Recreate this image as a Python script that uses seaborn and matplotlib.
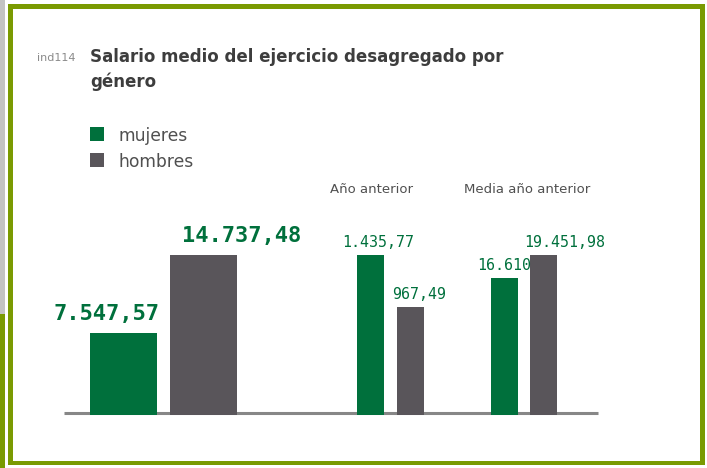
import numpy as np
import pandas as pd
import matplotlib
matplotlib.use("Agg")
import matplotlib.pyplot as plt
import seaborn as sns
from matplotlib.patches import Rectangle
from matplotlib import font_manager as fm

# ---------------- data ----------------
indicator = "ind114"
title_lines = ["Salario medio del ejercicio desagregado por", "género"]
series = ["mujeres", "hombres"]
groups = ["Ejercicio", "Año anterior", "Media año anterior"]
group_headers = ["", "Año anterior", "Media año anterior"]
mujeres = [7547.57, 1435.77, 16610.0]
hombres = [14737.48, 967.49, 19451.98]
labels_mujeres = ["7.547,57", "1.435,77", "16.610"]
labels_hombres = ["14.737,48", "967,49", "19.451,98"]

# ---------------- style ----------------
GREEN = "#00703c"
GREY = "#59555a"
OLIVE = "#7a9a01"
TXT = "#505050"
sns.set_theme(style="white")
plt.rcParams["font.family"] = ["DejaVu Sans"]
MONO = ["DejaVu Sans Mono", "DejaVu Sans"]

# look for a condensed/narrow bold face for the title
title_fp = None
for f in fm.fontManager.ttflist:
    nm = (f.fname + " " + f.name).lower()
    if ("condensed" in nm or "narrow" in nm) and "semi" not in nm and \
            (f.weight in ("bold", 700) or "bold" in nm) and "oblique" not in nm and "italic" not in nm:
        title_fp = fm.FontProperties(fname=f.fname)
        break
if title_fp is not None:
    title_fp.set_size(13.3)
else:
    title_fp = fm.FontProperties(family="DejaVu Sans", weight="bold", size=11.8)

W, H = 707, 468
fig = plt.figure(figsize=(W / 100, H / 100), dpi=100)
fig.patch.set_facecolor("white")

# background axes in pixel coordinates (frame, titles, legend)
bg = fig.add_axes([0, 0, 1, 1])
bg.set_xlim(0, W)
bg.set_ylim(H, 0)
bg.axis("off")

for (x, y, w, h, c) in [
    (0, 0, 5, 314, "#c3c3c3"),
    (0, 314, 5, 154, OLIVE),
    (8, 4, 5, 461, OLIVE),
    (8, 4, 697, 5, OLIVE),
    (700, 4, 5, 461, OLIVE),
    (8, 461, 697, 4, OLIVE),
]:
    bg.add_patch(Rectangle((x, y), w, h, facecolor=c, edgecolor="none"))

bg.text(37, 61, indicator, fontsize=8, color="#8a8a8a", va="baseline", ha="left")
for i, line in enumerate(title_lines):
    bg.text(90, 62 + 25 * i, line, fontproperties=title_fp, color="#3d3d3d",
            va="baseline", ha="left")

# legend
for i, (name, col) in enumerate(zip(series, [GREEN, GREY])):
    y0 = 127 + 26 * i
    bg.add_patch(Rectangle((90, y0), 14, 14, facecolor=col, edgecolor="none"))
    bg.text(118, y0 + 14, name, fontsize=12.3, color=TXT, va="baseline", ha="left")

# group headers
for hdr, cx in zip(group_headers, [0, 372, 527]):
    if hdr:
        bg.text(cx, 193, hdr, fontsize=9.5, color=TXT, va="baseline", ha="center")

# baseline
bg.plot([64, 598], [413, 413], color="#878787", lw=2.2, solid_capstyle="butt")

# ---------------- bars ----------------
left, right, base, top = 64, 598, 414.5, 255
ax = fig.add_axes([left / W, (H - base) / H, (right - left) / W, (base - top) / H])
ax.patch.set_alpha(0)

centers = [(123.5, 203.5), (370.5, 410.5), (504.5, 543.5)]
bar_w = [67, 27, 27]
label_dx = [(-17, 38), (7.5, 8.5), (0, 21)]
label_dy = [13, 8, 8]
label_size = [15.8, 10.8, 10.8]
label_weight = ["bold", "normal", "normal"]

for gi in range(len(groups)):
    vals = [mujeres[gi], hombres[gi]]
    mx = max(vals)
    df = pd.DataFrame({
        "x": list(centers[gi]),
        "h": [v / mx for v in vals],
        "serie": series,
    })
    sns.barplot(data=df, x="x", y="h", hue="serie", hue_order=series,
                palette=[GREEN, GREY], native_scale=True, dodge=False,
                width=bar_w[gi] / (centers[gi][1] - centers[gi][0]),
                saturation=1, linewidth=0, legend=False, ax=ax, errorbar=None)
    for j, lab in enumerate([labels_mujeres[gi], labels_hombres[gi]]):
        ax.annotate(lab, xy=(centers[gi][j], vals[j] / mx),
                    xytext=(label_dx[gi][j], label_dy[gi]), textcoords="offset pixels",
                    ha="center", va="baseline", color=GREEN, family=MONO,
                    fontsize=label_size[gi], fontweight=label_weight[gi],
                    annotation_clip=False)

ax.set_xlim(left, right)
ax.set_ylim(0, 1)
ax.axis("off")

fig.savefig("out.png", dpi=100, facecolor="white")
